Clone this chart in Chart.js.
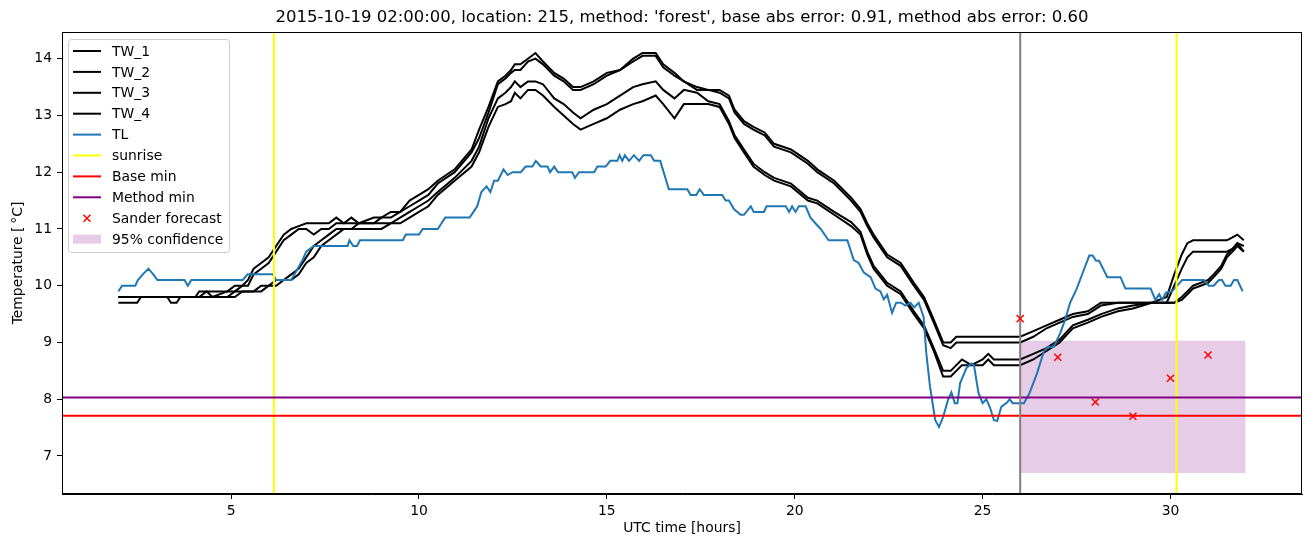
<!DOCTYPE html>
<html lang="en">
  <head>
    <meta charset="UTF-8" />
    <title>Temperature forecast</title>
    <script src="https://cdn.jsdelivr.net/npm/chart.js"></script>
    <style>
      body { margin: 0; background: #fff; }
    </style>
  </head>
  <body>
    <canvas id="chart" width="1311" height="547"></canvas>
    <script>
      // road sensor series (hours UTC, °C)
      const twTime = [2.0, 2.5, 2.6, 3.3, 3.4, 3.55, 3.65, 4.05, 4.15, 4.35, 4.5, 4.9, 5.1, 5.3, 5.45, 5.6, 5.8, 6.0, 6.2, 6.4, 6.6, 6.8, 7.0, 7.2, 7.4, 7.6, 7.8, 8.0, 8.2, 8.4, 8.8, 9.0, 9.25, 9.5, 9.75, 10.0, 10.25, 10.5, 10.95, 11.4, 11.6, 11.85, 12.1, 12.3, 12.45, 12.55, 12.7, 12.9, 13.1, 13.3, 13.6, 13.85, 14.1, 14.3, 14.65, 15.0, 15.35, 15.7, 15.95, 16.3, 16.5, 16.8, 17.05,
        17.4, 17.7, 18.0, 18.25, 18.4, 18.65, 18.9, 19.2, 19.45, 19.9, 20.35, 20.6, 21.05, 21.5, 21.75, 21.93, 22.1, 22.46, 22.82, 23.17, 23.44, 23.7,
        23.95, 24.15, 24.3, 24.45, 24.7, 25.0, 25.15, 25.3, 26.0, 26.35, 26.7, 27.05, 27.4, 27.8, 28.15, 28.6, 29.0, 29.5, 29.9, 30.1, 30.3, 30.45, 30.6, 30.8, 31.0, 31.15, 31.35, 31.5, 31.65, 31.78, 31.95];
      const tw1 = [9.8, 9.8, 9.8, 9.8, 9.8, 9.8, 9.8, 9.8, 9.9, 9.9, 9.9, 9.9, 10.0, 10.0, 10.1, 10.3, 10.4, 10.5, 10.7, 10.9, 11.0, 11.05, 11.1, 11.1, 11.1, 11.1, 11.2, 11.1, 11.2, 11.1, 11.2, 11.2, 11.3, 11.3, 11.5, 11.6, 11.7, 11.85, 12.05, 12.4, 12.75, 13.15, 13.6, 13.7, 13.8, 13.9, 13.9, 14.0, 14.1, 13.95, 13.75, 13.65, 13.5, 13.5, 13.6, 13.75, 13.8, 14.0, 14.1, 14.1, 13.9, 13.75, 13.6,
        13.5, 13.45, 13.45, 13.35, 13.1, 12.9, 12.8, 12.7, 12.5, 12.4, 12.2, 12.05, 11.85, 11.55, 11.35, 11.1, 10.9, 10.55, 10.4, 10.05, 9.8, 9.4,
        9.0, 9.0, 9.1, 9.1, 9.1, 9.1, 9.1, 9.1, 9.1, 9.2, 9.3, 9.4, 9.5, 9.55, 9.7, 9.7, 9.7, 9.7, 9.8, 10.2, 10.55, 10.75, 10.8, 10.8, 10.8, 10.8, 10.8, 10.8, 10.85, 10.9, 10.8];
      const tw2 = [9.8, 9.8, 9.8, 9.8, 9.8, 9.8, 9.8, 9.8, 9.8, 9.9, 9.8, 9.9, 9.9, 10.0, 10.0, 10.2, 10.3, 10.4, 10.6, 10.8, 10.9, 11.0, 11.0, 10.9, 11.0, 11.0, 11.1, 11.1, 11.1, 11.1, 11.1, 11.2, 11.2, 11.3, 11.4, 11.5, 11.6, 11.8, 12.0, 12.35, 12.6, 13.05, 13.55, 13.65, 13.75, 13.8, 13.8, 13.95, 14.0, 13.9, 13.7, 13.6, 13.45, 13.45, 13.55, 13.7, 13.8, 13.95, 14.05, 14.05, 13.85, 13.7, 13.6,
        13.45, 13.45, 13.4, 13.3, 13.05, 12.85, 12.75, 12.65, 12.45, 12.35, 12.15, 12.0, 11.8, 11.5, 11.3, 11.05, 10.85, 10.5, 10.35, 10.0, 9.75, 9.35,
        8.95, 8.9, 9.0, 9.0, 9.0, 9.0, 9.0, 9.0, 9.0, 9.1, 9.25, 9.35, 9.45, 9.5, 9.65, 9.7, 9.7, 9.7, 9.7, 10.0, 10.3, 10.5, 10.6, 10.6, 10.6, 10.6, 10.6, 10.6, 10.65, 10.75, 10.7];
      const tw3 = [9.8, 9.8, 9.8, 9.8, 9.8, 9.8, 9.8, 9.8, 9.8, 9.8, 9.8, 9.8, 9.9, 9.9, 9.9, 9.9, 10.0, 10.0, 10.1, 10.1, 10.2, 10.3, 10.5, 10.7, 10.8, 10.9, 11.0, 11.0, 11.0, 11.1, 11.1, 11.1, 11.1, 11.2, 11.3, 11.4, 11.5, 11.65, 11.9, 12.2, 12.45, 12.95, 13.3, 13.4, 13.5, 13.6, 13.5, 13.6, 13.6, 13.55, 13.3, 13.2, 13.05, 12.95, 13.1, 13.2, 13.35, 13.5, 13.55, 13.6, 13.45, 13.3, 13.45,
        13.4, 13.25, 13.2, 12.9, 12.65, 12.4, 12.15, 12.0, 11.9, 11.8, 11.55, 11.5, 11.3, 11.12, 10.95, 10.6, 10.35, 10.05, 9.9, 9.55, 9.3, 8.9,
        8.5, 8.5, 8.6, 8.7, 8.6, 8.7, 8.8, 8.7, 8.7, 8.8, 8.9, 9.05, 9.3, 9.4, 9.5, 9.6, 9.65, 9.7, 9.7, 9.7, 9.8, 9.9, 10.0, 10.05, 10.1, 10.2, 10.35, 10.55, 10.65, 10.75, 10.6];
      const tw4 = [9.7, 9.7, 9.8, 9.8, 9.7, 9.7, 9.8, 9.8, 9.8, 9.8, 9.8, 9.8, 9.8, 9.9, 9.9, 9.9, 9.9, 10.0, 10.0, 10.1, 10.1, 10.2, 10.4, 10.5, 10.7, 10.8, 10.9, 11.0, 11.0, 11.0, 11.0, 11.0, 11.1, 11.1, 11.2, 11.3, 11.4, 11.6, 11.85, 12.1, 12.35, 12.8, 13.15, 13.2, 13.25, 13.4, 13.3, 13.45, 13.45, 13.35, 13.15, 13.0, 12.85, 12.75, 12.85, 12.95, 13.1, 13.2, 13.25, 13.35, 13.2, 12.95, 13.2,
        13.2, 13.2, 13.15, 12.85, 12.6, 12.35, 12.1, 11.95, 11.85, 11.75, 11.5, 11.45, 11.25, 11.05, 10.9, 10.55, 10.3, 10.0, 9.85, 9.5, 9.25, 8.85,
        8.4, 8.4, 8.5, 8.6, 8.6, 8.6, 8.7, 8.6, 8.6, 8.7, 8.85, 9.0, 9.25, 9.35, 9.45, 9.55, 9.6, 9.7, 9.7, 9.7, 9.75, 9.85, 9.95, 10.0, 10.05, 10.15, 10.3, 10.5, 10.6, 10.7, 10.6];

      // air temperature TL
      const tlTime = [2.0, 2.1, 2.45, 2.52, 2.65, 2.8, 2.93, 3.04, 3.76, 3.85, 3.94, 5.31, 5.44, 6.11, 6.2, 6.6, 6.9, 7.0, 7.2, 8.1, 8.15, 8.25, 8.35, 8.43, 9.57, 9.65, 10.0, 10.1, 10.5, 10.6, 10.7, 11.35, 11.45, 11.55, 11.66, 11.8, 11.9, 12.0, 12.1, 12.25, 12.36, 12.49, 12.71, 12.84, 13.02, 13.11, 13.24, 13.42, 13.49, 13.6, 13.7, 14.08, 14.15, 14.26, 14.66, 14.75, 14.97, 15.09, 15.28, 15.34, 15.41, 15.48, 15.59, 15.72, 15.86, 15.97, 16.17, 16.26, 16.42, 16.65, 17.14, 17.23, 17.38, 17.47, 17.58, 18.07, 18.16, 18.25, 18.38, 18.56, 18.65, 18.83, 18.91, 19.18, 19.25, 19.76, 19.85, 19.93, 20.02, 20.11, 20.29, 20.42, 20.55, 20.69, 20.9, 21.4, 21.57, 21.7, 21.84, 22.02, 22.15, 22.28, 22.37, 22.46, 22.59, 22.7, 22.82, 22.95, 23.08, 23.18, 23.3, 23.43, 23.5, 23.6, 23.74, 23.84, 23.95, 24.08, 24.17, 24.26, 24.33, 24.4, 24.57, 24.7, 24.77, 24.89, 25.0, 25.1, 25.2, 25.3, 25.39, 25.5, 25.65, 25.72, 25.8, 26.1, 26.25, 26.45, 26.63, 26.72, 26.89, 27.07, 27.2, 27.33, 27.5, 27.7, 27.84, 27.93, 28.02, 28.1, 28.32, 28.67, 28.8, 29.47, 29.6, 29.7, 29.78, 29.88, 30.04, 30.18, 30.31, 30.89, 31.02, 31.15, 31.29, 31.37, 31.46, 31.6, 31.69, 31.78, 31.92];
      const tlTemp = [9.9, 10.0, 10.0, 10.1, 10.2, 10.3, 10.2, 10.1, 10.1, 10.0, 10.1, 10.1, 10.2, 10.2, 10.1, 10.1, 10.45, 10.6, 10.7, 10.7, 10.8, 10.7, 10.7, 10.8, 10.8, 10.9, 10.9, 11.0, 11.0, 11.1, 11.2, 11.2, 11.3, 11.4, 11.65, 11.75, 11.65, 11.85, 11.85, 12.05, 11.95, 12.0, 12.0, 12.1, 12.1, 12.2, 12.1, 12.1, 12.0, 12.1, 12.0, 12.0, 11.9, 12.0, 12.0, 12.1, 12.1, 12.2, 12.2, 12.3, 12.2, 12.3, 12.2, 12.3, 12.2, 12.3, 12.3, 12.2, 12.2, 11.7, 11.7, 11.6, 11.6, 11.7, 11.6, 11.6, 11.5, 11.5, 11.35, 11.25, 11.25, 11.4, 11.3, 11.3, 11.4, 11.4, 11.3, 11.4, 11.3, 11.4, 11.4, 11.2, 11.1, 11.0, 10.8, 10.8, 10.45, 10.4, 10.23, 10.15, 9.95, 9.9, 9.76, 9.84, 9.52, 9.7, 9.7, 9.65, 9.7, 9.62, 9.7, 9.45, 8.82, 8.22, 7.63, 7.51, 7.69, 7.99, 8.12, 7.93, 7.93, 8.28, 8.55, 8.63, 8.6, 8.11, 7.93, 8.0, 7.85, 7.63, 7.62, 7.87, 7.94, 8.0, 7.93, 7.93, 8.11, 8.46, 8.84, 8.92, 8.92, 9.17, 9.41, 9.7, 9.94, 10.29, 10.53, 10.53, 10.44, 10.44, 10.15, 10.15, 9.95, 9.95, 9.75, 9.85, 9.75, 9.88, 9.9, 10.0, 10.1, 10.1, 10.0, 10.0, 10.1, 10.1, 10.0, 10.0, 10.1, 10.1, 9.9];

      // forecast markers and reference levels
      const forecastTime = [26, 27, 28, 29, 30, 31];
      const forecastTemp = [9.42, 8.74, 7.95, 7.7, 8.37, 8.78];
      const sunriseTimes = [6.14, 30.16];
      const forecastStart = 26;
      const baseMin = 7.71;
      const methodMin = 8.03;
      const confidenceTime = [26, 32];
      const confidenceLow = 6.7;
      const confidenceHigh = 9.03;

      const xRange = [0.5, 33.5];
      const yRange = [6.33, 14.47];
      const xTicks = [5, 10, 15, 20, 25, 30];
      const yTicks = [7, 8, 9, 10, 11, 12, 13, 14];
      const titleText = "2015-10-19 02:00:00, location: 215, method: 'forest', base abs error: 0.91, method abs error: 0.60";

      const FONT = "'DejaVu Sans', sans-serif";
      const pts = (xs, ys) => xs.map((x, i) => ({ x: x, y: ys[i] }));
      const vline = (x) => [{ x: x, y: yRange[0] }, { x: x, y: yRange[1] }];
      const hline = (y) => [{ x: xRange[0], y: y }, { x: xRange[1], y: y }];

      function lineSet(label, data, color, order, extra) {
        return Object.assign(
          {
            label: label,
            data: data,
            borderColor: color,
            backgroundColor: color,
            borderWidth: 2,
            pointRadius: 0,
            tension: 0,
            fill: false,
            order: order,
            legendStyle: "line",
          },
          extra || {}
        );
      }

      const datasets = [
        lineSet("TW_1", pts(twTime, tw1), "#000000", 9),
        lineSet("TW_2", pts(twTime, tw2), "#000000", 9),
        lineSet("TW_3", pts(twTime, tw3), "#000000", 9),
        lineSet("TW_4", pts(twTime, tw4), "#000000", 9),
        lineSet("TL", pts(tlTime, tlTemp), "#1f77b4", 8),
        lineSet("sunrise", vline(sunriseTimes[0]), "#ffff00", 7),
        lineSet("sunrise", vline(sunriseTimes[1]), "#ffff00", 7, { skipLegend: true }),
        lineSet("Base min", hline(baseMin), "#ff0000", 6),
        lineSet("Method min", hline(methodMin), "#800080", 5),
        lineSet("now", vline(forecastStart), "#808080", 4, { skipLegend: true }),
        {
          label: "Sander forecast",
          data: pts(forecastTime, forecastTemp),
          showLine: false,
          pointStyle: "crossRot",
          pointRadius: 5,
          pointBorderWidth: 1.5,
          borderColor: "#ff0000",
          backgroundColor: "#ff0000",
          order: 1,
          legendStyle: "marker",
        },
        {
          label: "95% confidence",
          data: pts(confidenceTime, [confidenceHigh, confidenceHigh]),
          borderWidth: 0,
          borderColor: "rgba(0,0,0,0)",
          pointRadius: 0,
          backgroundColor: "rgba(128,0,128,0.2)",
          fill: { value: confidenceLow },
          order: 10,
          legendStyle: "patch",
        },
      ];

      // matplotlib-like frame, title over the axes, and legend box
      const framePlugin = {
        id: "frame",
        afterDraw(chart) {
          const ctx = chart.ctx;
          const a = chart.chartArea;
          ctx.save();
          ctx.strokeStyle = "#000";
          ctx.lineWidth = 1;
          ctx.strokeRect(Math.round(a.left) + 0.5, Math.round(a.top) + 0.5,
            Math.round(a.right - a.left) - 1, Math.round(a.bottom - a.top) - 1);

          ctx.fillStyle = "#000";
          ctx.font = "16.5px " + FONT;
          ctx.textAlign = "center";
          ctx.textBaseline = "middle";
          ctx.fillText(titleText, (a.left + a.right) / 2, 18);

          const items = chart.data.datasets.filter((d) => !d.skipLegend);
          const bx = 68.5, by = 39.5, bw = 161, bh = 213, r = 3;
          ctx.beginPath();
          ctx.moveTo(bx + r, by);
          ctx.arcTo(bx + bw, by, bx + bw, by + bh, r);
          ctx.arcTo(bx + bw, by + bh, bx, by + bh, r);
          ctx.arcTo(bx, by + bh, bx, by, r);
          ctx.arcTo(bx, by, bx + bw, by, r);
          ctx.closePath();
          ctx.fillStyle = "rgba(255,255,255,0.8)";
          ctx.fill();
          ctx.strokeStyle = "#cccccc";
          ctx.stroke();

          ctx.font = "13.9px " + FONT;
          ctx.textAlign = "left";
          items.forEach((d, i) => {
            const y = 51 + i * 20.9;
            if (d.legendStyle === "line") {
              ctx.strokeStyle = d.borderColor;
              ctx.lineWidth = 2;
              ctx.beginPath();
              ctx.moveTo(73, y);
              ctx.lineTo(101, y);
              ctx.stroke();
            } else if (d.legendStyle === "marker") {
              ctx.strokeStyle = d.borderColor;
              ctx.lineWidth = 1.5;
              ctx.beginPath();
              ctx.moveTo(83.5, y - 3.5);
              ctx.lineTo(90.5, y + 3.5);
              ctx.moveTo(90.5, y - 3.5);
              ctx.lineTo(83.5, y + 3.5);
              ctx.stroke();
            } else {
              ctx.fillStyle = d.backgroundColor;
              ctx.fillRect(73, y - 4.5, 28, 9);
            }
            ctx.fillStyle = "#000";
            ctx.fillText(d.label, 112, y + 1);
          });
          ctx.restore();
        },
      };

      new Chart(document.getElementById("chart"), {
        type: "line",
        data: { datasets: datasets },
        plugins: [framePlugin],
        options: {
          responsive: false,
          animation: false,
          events: [],
          devicePixelRatio: 1,
          layout: { padding: { left: 0, right: 9, top: 32, bottom: 0 } },
          plugins: {
            legend: { display: false },
            tooltip: { enabled: false },
            title: { display: false },
          },
          scales: {
            x: {
              type: "linear",
              min: xRange[0],
              max: xRange[1],
              afterFit: (s) => { s.height = 53; },
              afterBuildTicks: (s) => { s.ticks = xTicks.map((v) => ({ value: v })); },
              ticks: { color: "#000", font: { family: FONT, size: 13.9 }, padding: 4, maxRotation: 0, autoSkip: false },
              grid: { drawOnChartArea: false, drawTicks: true, tickLength: 5, color: "#000" },
              border: { display: true, color: "#000" },
              title: {
                display: true,
                text: "UTC time [hours]",
                color: "#000",
                font: { family: FONT, size: 13.9 },
                padding: { top: 4, bottom: 10 },
              },
            },
            y: {
              type: "linear",
              min: yRange[0],
              max: yRange[1],
              afterFit: (s) => { s.width = 62; },
              afterBuildTicks: (s) => { s.ticks = yTicks.map((v) => ({ value: v })); },
              ticks: { color: "#000", font: { family: FONT, size: 13.9 }, padding: 5 },
              grid: { drawOnChartArea: false, drawTicks: true, tickLength: 5, color: "#000" },
              border: { display: true, color: "#000" },
              title: {
                display: true,
                text: "Temperature [\u2009°C]",
                color: "#000",
                font: { family: FONT, size: 13.9 },
                padding: { top: 10, bottom: 4 },
              },
            },
          },
        },
      });
    </script>
  </body>
</html>
